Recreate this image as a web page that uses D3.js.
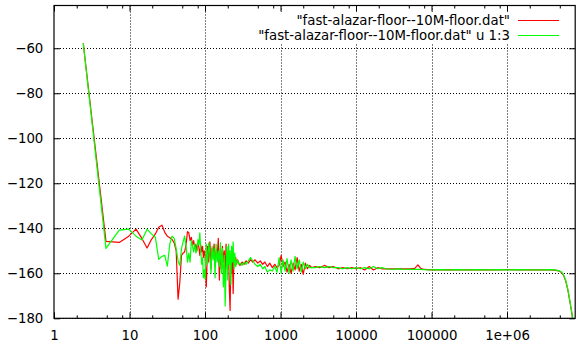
<!DOCTYPE html>
<html>
<head>
<meta charset="utf-8">
<script src="https://cdn.jsdelivr.net/npm/d3@7"></script>
<style>
  body { margin: 0; background: #fff; }
  text { font-family: "DejaVu Sans", sans-serif; font-size: 13.3px; fill: #000; }
</style>
</head>
<body>
<div id="chart"></div>
<script>
// frequency column (u 1) shared by both curves
var freqHz = [
  2.44, 4.88, 7.32, 9.77, 12.2, 14.6, 17.1, 19.5, 22.0, 24.4,
  26.9, 29.3, 31.7, 34.2, 36.6, 39.1, 41.5, 44.0, 46.4, 48.8,
  51.3, 53.7, 56.2, 58.6, 61.0, 63.5, 65.9, 68.4, 70.8, 73.2,
  75.7, 78.1, 80.6, 83.0, 85.4, 87.9, 90.3, 92.8, 95.2, 97.7,
  100, 104, 108, 112, 116, 120, 124, 128, 132, 136, 140,
  145, 150, 155, 160, 165, 170, 175, 180, 185, 190, 195, 200, 205, 210, 215, 220, 225, 230,
  236, 242, 248, 255, 262, 270, 280,
  290, 310, 330, 350, 375, 400, 430, 460, 500, 540,
  580, 620, 670, 720, 780, 840, 900, 960, 1020, 1080,
  1150, 1220, 1300, 1380, 1470, 1560, 1660, 1770, 1880, 2000,
  2130, 2270, 2420, 2600, 2900, 3300, 3800, 4400, 5000, 5800,
  6700, 7700, 8800, 10000, 11500, 13000, 15000, 17000, 19500, 22000,
  25000, 30000, 36000, 43000, 52000, 60000, 66000, 72000, 80000, 100000,
  130000, 170000, 220000, 300000, 400000, 550000, 750000, 1e6, 1.4e6, 2e6,
  2.8e6, 3.6e6, 4.3e6, 4.8e6, 5.2e6, 5.6e6, 6.0e6, 6.4e6, 6.8e6, 7.2e6, 7.6e6, 7.9e6
];

// column 2
var redDb = [
  -57.8, -145.8, -146.3, -143.5, -140.4, -144.5, -148.8, -145.0, -142.5, -139.5,
  -138.6, -141.8, -143.5, -144.2, -145.0, -146.5, -150.0, -171.5, -164.0, -152.0,
  -151.0, -150.5, -147.0, -141.5, -142.0, -145.5, -144.0, -147.5, -145.5, -149.0,
  -147.0, -150.0, -146.5, -148.5, -152.0, -147.5, -150.5, -148.0, -153.0, -150.0,
  -152, -166, -148, -155, -146, -158, -149, -152, -147, -157, -150,
  -153, -144.5, -163, -149, -158, -148, -155, -150, -161, -147, -154, -158, -150, -167, -176.5, -154, -160, -150,
  -169, -152, -156, -153, -156, -154, -155.5,
  -156.5, -155, -156, -154.5, -155.5, -154, -155, -154, -155.5, -154.5,
  -156, -155, -157, -155.5, -157.5, -156, -157.5, -156.5, -152, -157,
  -155, -159.5, -156, -160, -155.5, -158.5, -153, -159, -156, -160.5,
  -155.5, -158, -156.5, -157.5, -157, -157.5, -156.5, -157.5, -157, -158,
  -157.5, -158, -157.5, -158, -157.5, -158.5, -157, -158.5, -157.5, -158,
  -158, -158, -158, -158, -158, -157.8, -156.3, -157.8, -158.3, -158.5,
  -158.5, -158.4, -158.5, -158.5, -158.4, -158.5, -158.5, -158.4, -158.5, -158.5,
  -158.5, -158.5, -158.6, -158.9, -159.5, -160.8, -163.5, -167.5, -172.5, -177.5, -183, -190
];

// column 3
var greenDb = [
  -57.8, -148.9, -140.8, -140.4, -143.5, -145.2, -140.4, -142.5, -144.0, -153.8,
  -152.5, -152.0, -156.8, -147.0, -143.5, -144.5, -149.0, -154.5, -156.5, -149.0,
  -146.0, -143.5, -148.0, -155.0, -151.0, -155.0, -145.5, -148.0, -150.5, -147.0,
  -151.0, -150.0, -145.0, -147.5, -142.0, -150.0, -156.0, -153.0, -162.0, -158.5,
  -162.5, -147, -156, -146.5, -151, -160, -148, -154, -149, -162, -147,
  -155, -150, -157, -146.5, -160, -149, -166, -152, -174.5, -158, -148, -163, -147, -156, -150, -165, -148, -155,
  -146, -158, -151, -157, -155, -154, -156,
  -155.5, -156.5, -155, -156, -154.5, -153, -154.5, -156, -157, -156,
  -158, -157, -159.5, -158.5, -159, -157, -159.5, -153, -160, -154,
  -159, -153.5, -160, -154, -159, -152.5, -158, -154, -159.5, -155,
  -158, -156, -157.5, -157.5, -157.5, -157, -157.5, -157, -157.5, -157.5,
  -158, -157.5, -158, -157.5, -158, -157.5, -158, -157, -158, -157.5,
  -158, -158.2, -158, -158.2, -158.3, -158.3, -158.2, -158.3, -158.4, -158.5,
  -158.4, -158.5, -158.4, -158.5, -158.4, -158.5, -158.4, -158.5, -158.4, -158.5,
  -158.5, -158.4, -158.5, -158.8, -159.3, -160.6, -163.2, -167.2, -172.3, -177.3, -183, -190
];

var xTickValues = [1, 10, 100, 1000, 10000, 100000, 1000000];
var xTickLabels = ["1", "10", "100", "1000", "10000", "100000", "1e+06"];
var yTickValues = [-180, -160, -140, -120, -100, -80, -60];
var seriesNames = ['"fast-alazar-floor--10M-floor.dat"', '"fast-alazar-floor--10M-floor.dat" u 1:3'];
var seriesColors = ["#ff0000", "#00ff00"];

var width = 586, height = 345;
var plot = {left: 54, right: 575.2, top: 5.5, bottom: 318.3};

var svg = d3.select("#chart").append("svg")
  .attr("width", width)
  .attr("height", height);

var x = d3.scaleLog().domain([1, 8e6]).range([plot.left, plot.right]);
var y = d3.scaleLinear().domain([-180, -41]).range([plot.bottom, plot.top]);

// minor log ticks (2, 5, 8 per decade as gnuplot drew them)
var xMinor = [];
xTickValues.forEach(function(d) {
  [2, 5, 8].forEach(function(m) { if (d * m < 8e6) xMinor.push(d * m); });
});

// grid
var grid = svg.append("g")
  .attr("stroke", "#000")
  .attr("stroke-width", 1)
  .attr("stroke-dasharray", "1,2");
grid.selectAll("line.gx")
  .data(xTickValues.slice(1))
  .enter().append("line")
  .attr("x1", function(d) { return Math.round(x(d)) + 0.5; })
  .attr("x2", function(d) { return Math.round(x(d)) + 0.5; })
  .attr("y1", plot.top).attr("y2", plot.bottom);
grid.selectAll("line.gy")
  .data(yTickValues)
  .enter().append("line")
  .attr("x1", plot.left).attr("x2", plot.right)
  .attr("y1", function(d) { return Math.round(y(d)) + 0.5; })
  .attr("y2", function(d) { return Math.round(y(d)) + 0.5; });

// curves
svg.append("clipPath").attr("id", "clip")
  .append("rect")
  .attr("x", plot.left).attr("y", plot.top)
  .attr("width", plot.right - plot.left).attr("height", plot.bottom - plot.top);

var line = d3.line()
  .x(function(d) { return x(d[0]); })
  .y(function(d) { return y(d[1]); });

[redDb, greenDb].forEach(function(vals, i) {
  svg.append("path")
    .datum(freqHz.map(function(f, k) { return [f, vals[k]]; }))
    .attr("clip-path", "url(#clip)")
    .attr("fill", "none")
    .attr("stroke", seriesColors[i])
    .attr("stroke-width", 1.2)
    .attr("stroke-linejoin", "round")
    .attr("d", line);
});

// key (opaque)
var key = svg.append("g");
var keyBg = key.append("rect").attr("fill", "#fff");
var keyTexts = [];
seriesNames.forEach(function(name, i) {
  var yy = 20 + i * 15;
  var t = key.append("text")
    .attr("x", 510).attr("y", yy).attr("dy", "0.35em")
    .attr("text-anchor", "end")
    .text(name);
  keyTexts.push(t);
  key.append("line")
    .attr("x1", 518).attr("x2", 559)
    .attr("y1", yy + 0.5).attr("y2", yy + 0.5)
    .attr("stroke", seriesColors[i]).attr("stroke-width", 1.2);
});
var keyLeft = d3.min(keyTexts, function(t) { return t.node().getBBox().x; });
keyBg.attr("x", keyLeft - 4).attr("y", 12).attr("width", 568 - keyLeft + 4).attr("height", 31);
key.lower();
grid.lower();

// axes
function styleAxis(g) {
  g.select(".domain").remove();
  g.selectAll(".tick line").attr("stroke", "#000");
  g.selectAll(".tick text").attr("font-family", null).attr("font-size", null);
}

svg.append("g")
  .attr("transform", "translate(0," + plot.bottom + ")")
  .call(d3.axisBottom(x).tickValues(xTickValues)
    .tickFormat(function(d, i) { return xTickLabels[i]; })
    .tickSize(-6).tickPadding(12.2))
  .call(styleAxis);
svg.append("g")
  .attr("transform", "translate(0," + plot.bottom + ")")
  .call(d3.axisBottom(x).tickValues(xMinor).tickFormat("").tickSize(-3))
  .call(styleAxis);
svg.append("g")
  .attr("transform", "translate(0," + plot.top + ")")
  .call(d3.axisTop(x).tickValues(xTickValues).tickFormat("").tickSize(-6))
  .call(styleAxis);
svg.append("g")
  .attr("transform", "translate(0," + plot.top + ")")
  .call(d3.axisTop(x).tickValues(xMinor).tickFormat("").tickSize(-3))
  .call(styleAxis);
svg.append("g")
  .attr("transform", "translate(" + plot.left + ",0)")
  .call(d3.axisLeft(y).tickValues(yTickValues).tickSize(-6).tickPadding(10.7))
  .call(styleAxis);
svg.append("g")
  .attr("transform", "translate(" + plot.right + ",0)")
  .call(d3.axisRight(y).tickValues(yTickValues).tickFormat("").tickSize(-6))
  .call(styleAxis);

// border
svg.append("rect")
  .attr("x", plot.left).attr("y", plot.top)
  .attr("width", plot.right - plot.left).attr("height", plot.bottom - plot.top)
  .attr("fill", "none").attr("stroke", "#000").attr("stroke-width", 1.2);
</script>
</body>
</html>
